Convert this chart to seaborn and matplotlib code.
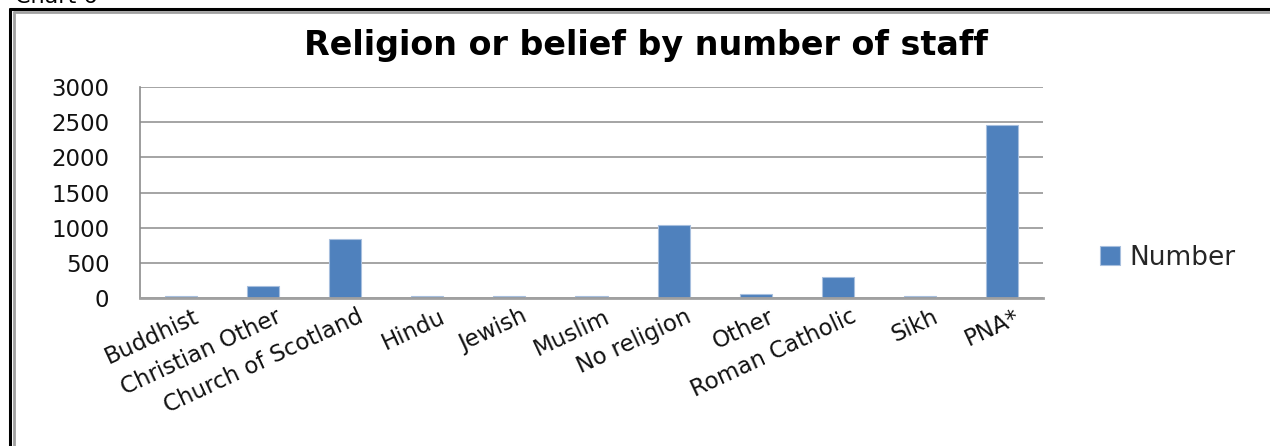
import matplotlib
matplotlib.use("Agg")
import matplotlib.pyplot as plt
import matplotlib.transforms as mtransforms
import seaborn as sns
import pandas as pd
from matplotlib.lines import Line2D

categories = ["Buddhist", "Christian Other", "Church of Scotland", "Hindu", "Jewish",
              "Muslim", "No religion", "Other", "Roman Catholic", "Sikh", "PNA*"]
values = [28, 175, 835, 25, 22, 28, 1035, 55, 305, 22, 2460]
yticks = [0, 500, 1000, 1500, 2000, 2500, 3000]
title = "Religion or belief by number of staff"
series_name = "Number"

sns.set_theme(style="white")
plt.rcParams["font.family"] = ["DejaVu Sans"]

W, H = 1270, 446
fig = plt.figure(figsize=(W / 100, H / 100), dpi=100)
ax = fig.add_axes([140 / W, 1 - 298 / H, (1043 - 140) / W, (298 - 87) / H])

df = pd.DataFrame({"Religion": categories, series_name: values})
sns.barplot(data=df, x="Religion", y=series_name, color="#4F81BD", width=0.39,
            edgecolor="#A7BFDE", linewidth=0.8, saturation=1, label=series_name, ax=ax)

ax.set_ylim(0, 3000)
ax.set_xlim(-0.5, len(categories) - 0.5)
ax.set_yticks(yticks)
ax.set_yticklabels([str(v) for v in yticks], fontsize=16.5, color="#111111")
ax.yaxis.grid(True, color="#8C8C8C", linewidth=1.1)
ax.set_axisbelow(True)
ax.tick_params(axis="y", length=0, pad=22)
ax.tick_params(axis="x", length=0, pad=5)
ax.set_xlabel("")
ax.set_ylabel("")
ax.set_xticks(range(len(categories)))
ax.set_xticklabels(categories, rotation=25, ha="right", rotation_mode="anchor",
                   fontsize=16.5, color="#111111")
shift = mtransforms.ScaledTranslation(12 / 100, 0, fig.dpi_scale_trans)
for lbl in ax.get_xticklabels():
    lbl.set_transform(lbl.get_transform() + shift)
for s in ["right", "top"]:
    ax.spines[s].set_visible(False)
ax.spines["left"].set_color("#8C8C8C")
ax.spines["left"].set_linewidth(1.2)
ax.spines["bottom"].set_color("#A0A0A0")
ax.spines["bottom"].set_linewidth(2)

leg = ax.legend(loc="center left", bbox_to_anchor=(1.037, 0.19), frameon=False,
                fontsize=19, handlelength=0.75, handleheight=0.75, handletextpad=0.35)

fig.text(646 / W, 1 - 46 / H, title, ha="center", va="center", fontsize=24,
         fontweight="bold", color="#000000")
fig.text(15 / W, 1 - 3 / H, "Chart 6", ha="left", va="baseline", fontsize=16, color="#000000")

# outer frame (black line with grey inner line), open to the right/bottom
fig.add_artist(Line2D([10 / W, 10 / W], [1 - 9 / H, 0], color="black", lw=2.2,
                      transform=fig.transFigure))
fig.add_artist(Line2D([10 / W, 1], [1 - 9 / H, 1 - 9 / H], color="black", lw=2.2,
                      transform=fig.transFigure))
fig.add_artist(Line2D([13.5 / W, 13.5 / W], [1 - 12 / H, 0], color="#A0A0A0", lw=2,
                      transform=fig.transFigure))
fig.add_artist(Line2D([13.5 / W, 1], [1 - 11.5 / H, 1 - 11.5 / H], color="#A0A0A0", lw=2,
                      transform=fig.transFigure))

fig.savefig("out.png", dpi=100, facecolor="white")
